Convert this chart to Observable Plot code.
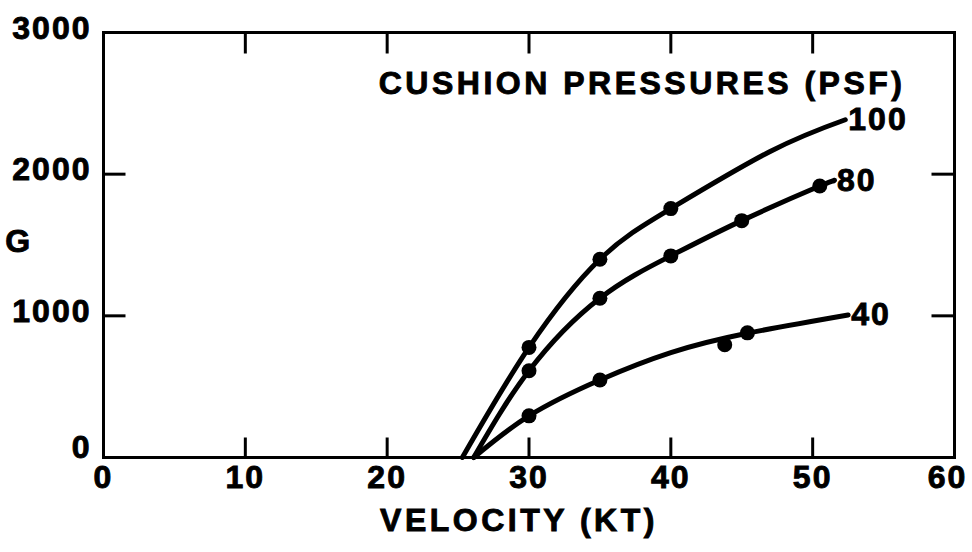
<!DOCTYPE html>
<html><head><meta charset="utf-8">
<script src="https://cdn.jsdelivr.net/npm/d3@7"></script>
<script src="https://cdn.jsdelivr.net/npm/@observablehq/plot@0.6"></script>
<style>
body{margin:0;background:#fff;}
#chart svg{display:block;}
</style></head><body><div id="chart"></div>
<script>
// Tick values
const xTickLabels = [0, 10, 20, 30, 40, 50, 60];
const yTickLabels = [0, 1000, 2000, 3000];
const xTicksInner = [10, 20, 30, 40, 50];
const yTicksInner = [1000, 2000];

// Cushion pressures (PSF)
const pressures = ["100", "80", "40"];

// Faired curves (velocity KT, G)
const curve100 = [[25.3, 0], [30, 777], [35, 1399], [40, 1757], [47, 2160], [52.3, 2384]];
const curve80  = [[26.1, 0], [30, 612], [35, 1124], [40, 1423], [45, 1672], [50.5, 1916], [51.5, 1953]];
const curve40  = [[26.1, 0], [30, 294], [35, 547], [40, 740], [45.3, 875], [52.5, 1006]];

// Measured points
const dots100 = [[30, 777], [35, 1399], [40, 1757]];
const dots80  = [[30, 612], [35, 1124], [40, 1423], [45, 1672], [50.5, 1916]];
const dots40  = [[30, 294], [35, 547], [43.8, 796], [45.4, 880]];

// Text
const xLabel = "VELOCITY (KT)";
const yLabel = "G";
const legendTitle = "CUSHION PRESSURES (PSF)";

const curves = [curve100, curve80, curve40];
const dotsets = [dots100, dots80, dots40];
const lineRows = curves.flatMap((c, i) => c.map(([x, y]) => ({p: pressures[i], x, y})));
const dotRows = dotsets.flatMap((c, i) => c.map(([x, y]) => ({p: pressures[i], x, y})));
const endRows = curves.map((c, i) => ({p: pressures[i], x: c[c.length - 1][0], y: c[c.length - 1][1]}));

const font = "'Liberation Sans', Arial, Helvetica, sans-serif";
const txt = {fontSize: 32, fontWeight: "bold", fill: "black"};
const tickShape = {draw(context, l) { context.moveTo(0, 0); context.lineTo(0, -l); }};
const tk = {shape: tickShape, anchor: "start", stroke: "black", strokeWidth: 3, strokeLinecap: "butt", fill: "none"};

const plot = Plot.plot({
  width: 972,
  height: 552,
  marginTop: 32,
  marginBottom: 95,
  marginLeft: 103,
  marginRight: 18,
  x: {domain: [0, 60], axis: null},
  y: {domain: [0, 3000], axis: null},
  style: {fontFamily: font, fontWeight: "bold", background: "white", color: "black"},
  marks: [
    Plot.frame({stroke: "black", strokeWidth: 3}),
    Plot.vector(xTicksInner, {x: d => d, frameAnchor: "bottom", length: 20, rotate: 0, ...tk}),
    Plot.vector(xTicksInner, {x: d => d, frameAnchor: "top", length: 21, rotate: 180, ...tk}),
    Plot.vector(yTicksInner, {y: d => d, frameAnchor: "left", length: 22, rotate: 90, ...tk}),
    Plot.vector(yTicksInner, {y: d => d, frameAnchor: "right", length: 23, rotate: -90, ...tk}),
    Plot.text(xTickLabels.slice(0, -1), {x: d => d, text: d => String(d), frameAnchor: "bottom", textAnchor: "middle", dy: 30, ...txt}),
    Plot.text(xTickLabels.slice(-1), {x: d => d, text: d => String(d), frameAnchor: "bottom", textAnchor: "middle", dx: -7, dy: 30, ...txt}),
    Plot.text(yTickLabels.slice(1), {y: d => d, text: d => String(d), frameAnchor: "left", textAnchor: "end", dx: -12, dy: -4, ...txt}),
    Plot.text(yTickLabels.slice(0, 1), {y: d => d, text: d => String(d), frameAnchor: "left", textAnchor: "end", dx: -12, dy: -10, ...txt}),
    Plot.text([yLabel], {text: d => d, frameAnchor: "left", textAnchor: "middle", dx: -84, dy: -3, ...txt}),
    Plot.text([xLabel], {text: d => d, frameAnchor: "bottom", textAnchor: "middle", dx: -10, dy: 73, ...txt}),
    Plot.text([legendTitle], {text: d => d, frameAnchor: "top-right", textAnchor: "end", dx: -49, dy: 39, ...txt}),
    Plot.line(lineRows, {x: "x", y: "y", z: "p", curve: "natural", stroke: "black", strokeWidth: 5}),
    Plot.dot(dotRows, {x: "x", y: "y", r: 7.5, fill: "black", stroke: "none"}),
    Plot.text(endRows, {x: "x", y: "y", text: "p", textAnchor: "start", dx: 3, ...txt})
  ]
});

plot.querySelectorAll("text").forEach(t => {
  t.style.letterSpacing = /[A-Z]/.test(t.textContent) ? "3.5px" : "2px";
  t.style.stroke = "black";
  t.style.strokeWidth = "0.9px";
});
document.getElementById("chart").appendChild(plot);
</script>
</body></html>
